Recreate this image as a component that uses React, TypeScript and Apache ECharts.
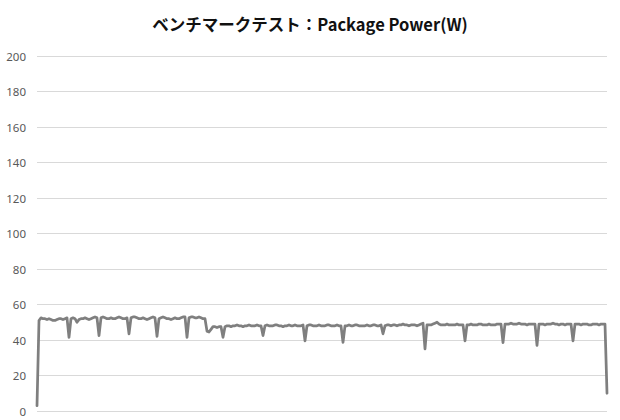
import React, { useEffect, useRef } from 'react'
import * as echarts from 'echarts'

const titleText = 'ベンチマークテスト：Package Power(W)'

// sampled package power (W), one sample per step
const packagePower = [
  3, 51,
  52.5, 52, 52, 51.5, 52, 51.5, 51, 51, 51.5, 52, 52, 51.5, 52, 52.5,
  41.5,
  52, 52.5, 52, 50, 51.5, 52, 52, 52.5, 52, 51.5, 52, 52.5, 53, 52.5,
  42.5,
  52.5, 53, 52.5, 52, 52, 52.5, 52, 52, 52.5, 53, 52.5, 52, 52, 52.5,
  43.5,
  52.5, 53, 53, 52.5, 52, 52, 52.5, 52, 51.5, 52, 52.5, 53, 52.5,
  42,
  52, 52.5, 53, 52.5, 52, 52, 51.5, 52, 52.5, 52, 52, 52.5, 53, 53,
  41.5,
  52.5, 53, 53, 52.5, 52.5, 53, 52.5, 52, 52,
  45, 44.5, 46, 47.5, 47.5, 47, 47.5, 47.5,
  41.5,
  47.5, 48, 48, 47.5, 48, 48, 48.5, 48, 48, 47.5, 48, 48, 48.5, 48, 48, 48, 48.5, 48, 48,
  42.5,
  48, 48.5, 48, 48, 48, 48.5, 48.5, 48, 48, 47.5, 48, 48, 48.5, 48, 48, 48.5, 48, 48, 48, 48.5,
  39.5,
  48, 48.5, 48.5, 48, 48, 48, 48.5, 48, 48, 48, 48.5, 48.5, 48, 48, 48, 48.5, 48, 48,
  38.7,
  48, 48, 48.5, 48, 48, 48.5, 48.5, 48, 48, 48, 48, 48.5, 48, 48, 48.5, 48.5, 48, 48, 48.5,
  43.5,
  48, 48.5, 48.5, 48, 48.5, 48.5, 48, 48.5, 48.5, 49, 48.5, 48.5, 48, 48.5, 48.5, 48.5, 48, 48.5, 49, 49.5,
  35,
  48.5, 48.5, 48.5, 49, 49.5, 50, 49, 48.5, 48.5, 48.5, 49, 48.5, 48.5, 48.5, 48.5, 49, 48.5, 48.5, 48.5,
  39.5,
  48.5, 48.5, 49, 48.5, 48.5, 48.5, 49, 49, 48.5, 48.5, 48.5, 49, 48.5, 48.5, 48.5, 49, 49, 49,
  38.5,
  49, 49, 49, 49.5, 49, 49, 49, 49.5, 49, 49, 49, 48.5, 49, 49, 49, 49,
  37,
  49, 49, 49, 48.5, 49, 49, 49, 49.5, 49, 49, 48.5, 49, 49, 48.5, 49, 49, 49,
  39.5,
  49, 49, 49, 48.5, 49, 49, 49, 48.5, 48.5, 49, 49, 49, 48.5, 49, 49, 49,
  10
]

const samples = packagePower.map((_, i) => String(i + 1))

const yMin = 0
const yMax = 200
const yStep = 20

export default function App() {
  const chartRef = useRef<HTMLDivElement>(null)

  useEffect(() => {
    document.body.style.margin = '0'
    if (!chartRef.current) {
      return
    }
    const chart = echarts.init(chartRef.current, undefined, { renderer: 'svg' })

    chart.setOption({
      animation: false,
      backgroundColor: '#ffffff',
      title: {
        text: titleText,
        left: 'center',
        top: 11,
        textStyle: {
          fontFamily: '"Noto Sans CJK JP", "Noto Sans", sans-serif',
          fontSize: 16.5,
          fontWeight: 'bold',
          color: '#111111'
        }
      },
      grid: {
        left: 37,
        right: 13,
        top: 56,
        bottom: 9,
        containLabel: false
      },
      xAxis: {
        type: 'category',
        data: samples,
        boundaryGap: false,
        show: false
      },
      yAxis: {
        type: 'value',
        min: yMin,
        max: yMax,
        interval: yStep,
        axisLine: { show: false },
        axisTick: { show: false },
        axisLabel: {
          color: '#595959',
          fontSize: 11.5,
          margin: 11,
          fontFamily: '"Noto Sans", sans-serif'
        },
        splitLine: {
          lineStyle: {
            color: '#d9d9d9',
            width: 1
          }
        }
      },
      series: [
        {
          name: 'Package Power',
          type: 'line',
          data: packagePower,
          showSymbol: false,
          smooth: false,
          lineStyle: {
            color: '#7f7f7f',
            width: 2.75,
            join: 'round',
            cap: 'round'
          },
          itemStyle: {
            color: '#7f7f7f'
          }
        }
      ]
    })

    return () => {
      chart.dispose()
    }
  }, [])

  return <div ref={chartRef} style={{ width: 620, height: 420 }} />
}
